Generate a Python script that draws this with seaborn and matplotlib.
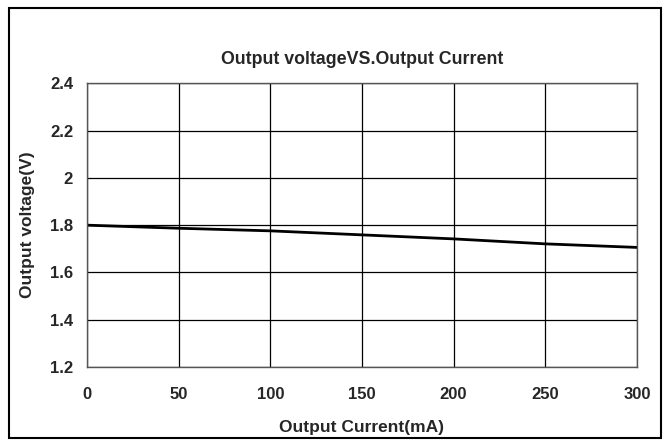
import matplotlib
matplotlib.use("Agg")
import matplotlib.pyplot as plt
import seaborn as sns
import pandas as pd
from matplotlib.patches import Rectangle

sns.set_theme(style="white")
plt.rcParams["font.family"] = ["Liberation Sans", "DejaVu Sans"]

# valeurs
current_ma = [0, 50, 100, 150, 200, 250, 300]
voltage_v = [1.800, 1.787, 1.776, 1.759, 1.742, 1.721, 1.706]
x_ticks = [0, 50, 100, 150, 200, 250, 300]
y_ticks = [1.2, 1.4, 1.6, 1.8, 2.0, 2.2, 2.4]
y_labels = ["1.2", "1.4", "1.6", "1.8", "2", "2.2", "2.4"]

df = pd.DataFrame({"current": current_ma, "voltage": voltage_v})

fig = plt.figure(figsize=(6.69, 4.45), dpi=100)
ax = fig.add_axes([0.130, 0.175, 0.822, 0.638])

sns.lineplot(data=df, x="current", y="voltage", ax=ax, color="black", linewidth=2)

ax.set_xlim(0, 300)
ax.set_ylim(1.2, 2.4)
ax.set_xticks(x_ticks)
ax.set_yticks(y_ticks)
ax.set_yticklabels(y_labels)
ax.grid(True, color="black", linewidth=0.9)
for s in ax.spines.values():
    s.set_color("#555555")
    s.set_linewidth(1.0)
ax.tick_params(axis="x", length=0, pad=14, labelsize=12)
ax.tick_params(axis="y", length=0, pad=10, labelsize=12)
for lab in ax.get_xticklabels() + ax.get_yticklabels():
    lab.set_fontweight("bold")

ax.set_title("Output voltageVS.Output Current", fontsize=12.8, fontweight="bold", pad=14)
ax.set_xlabel("Output Current(mA)", fontsize=12.5, fontweight="bold", labelpad=13)
ax.set_ylabel("Output voltage(V)", fontsize=12.5, fontweight="bold", labelpad=11)

# cadre autour de la figure
fig.patches.append(Rectangle((9 / 669, 7 / 445), 652 / 669, 430 / 445,
                             transform=fig.transFigure, fill=False,
                             edgecolor="black", linewidth=1.5))

fig.savefig("out.png", dpi=100)
